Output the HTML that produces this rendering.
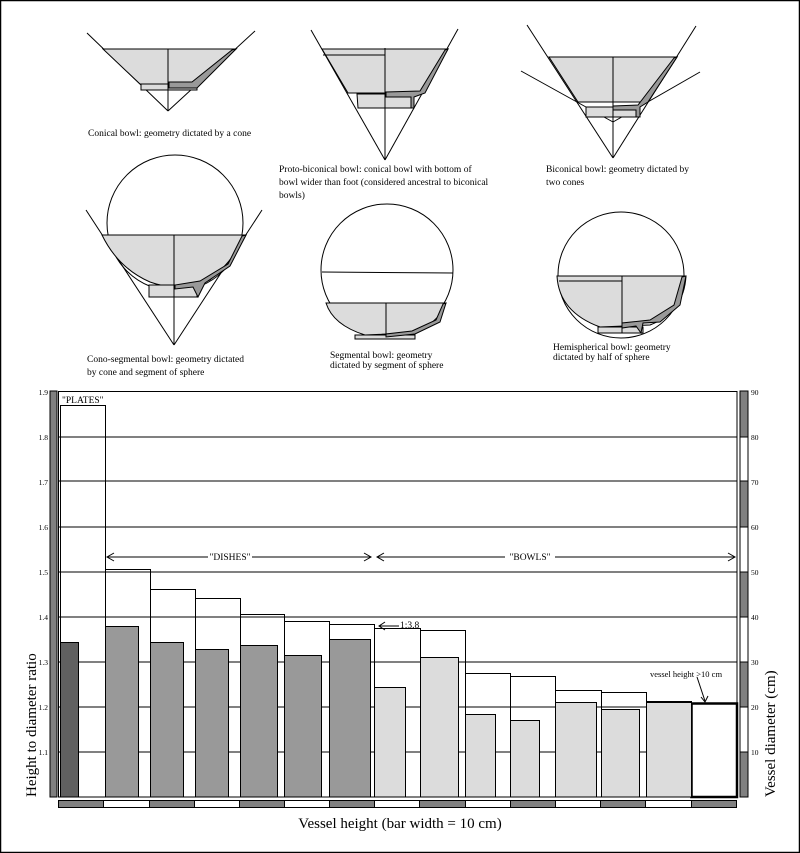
<!DOCTYPE html>
<html><head><meta charset="utf-8"><style>
html,body{margin:0;padding:0;background:#fff;}
svg{display:block;font-family:"Liberation Serif",serif;}
</style></head><body>
<svg width="800" height="853" viewBox="0 0 800 853" xmlns="http://www.w3.org/2000/svg">
<rect x="0.5" y="0.5" width="799" height="852" fill="#fff" stroke="#000" stroke-width="1.5"/>

<!-- Conical bowl -->
<g stroke="#000" stroke-width="1" fill="none">
<line x1="87" y1="33" x2="168" y2="111"/><line x1="255" y1="31" x2="168" y2="111"/>
<polygon points="103,49 236,49 196,84 140,84" fill="#dcdcdc"/>
<rect x="141" y="84" width="56" height="6" fill="#dcdcdc"/>
<polygon points="232,50 236,49 197,88 169,88 169,82 192,82" fill="#999"/>
<line x1="168" y1="49" x2="168" y2="111"/>
</g>
<text x="88" y="136" font-size="9.5">Conical bowl: geometry dictated by a cone</text>

<!-- Proto-biconical -->
<g stroke="#000" stroke-width="1" fill="none">
<line x1="311" y1="30" x2="385" y2="160"/><line x1="458" y1="29" x2="385" y2="160"/>
<polygon points="322,49 448,49 423,93 348,93" fill="#dcdcdc"/>
<polygon points="357,94 413,94 413,108 358,108" fill="#dcdcdc"/>
<line x1="323" y1="55" x2="385" y2="55"/>
<polygon points="445,50 448,49 425,93 414,97 414,108 411,108 411,97 386,97 386,92 420,91" fill="#999"/>
<line x1="385" y1="48" x2="385" y2="160"/>
</g>
<text font-size="9.5"><tspan x="279" y="172">Proto-biconical bowl: conical bowl with bottom of</tspan><tspan x="279" y="185">bowl wider than foot (considered ancestral to biconical</tspan><tspan x="279" y="198">bowls)</tspan></text>

<!-- Biconical -->
<g stroke="#000" stroke-width="1" fill="none">
<line x1="527" y1="25" x2="613" y2="158"/><line x1="696" y1="26" x2="613" y2="158"/>
<line x1="521" y1="71" x2="613" y2="122"/><line x1="700" y1="72" x2="613" y2="122"/>
<polygon points="549,57 677,57 648,102 578,102" fill="#dcdcdc"/>
<rect x="586" y="107" width="54" height="10" fill="#dcdcdc"/>
<polygon points="674,58 677,57 648,102 640,107 640,117 636,117 636,110 613,110 613,106 638,105" fill="#999"/>
<line x1="578" y1="102" x2="613" y2="102"/>
<line x1="613" y1="57" x2="613" y2="158"/>
</g>
<text font-size="9.5"><tspan x="546" y="172">Biconical bowl: geometry dictated by</tspan><tspan x="546" y="185">two cones</tspan></text>

<!-- Cono-segmental -->
<g stroke="#000" stroke-width="1" fill="none">
<circle cx="175" cy="223" r="68"/>
<line x1="86" y1="210" x2="174" y2="345"/><line x1="262" y1="210" x2="174" y2="345"/>
<path d="M102,235 L246,235 Q232,262 210,280 Q180,293 150,282 Q118,268 102,235 Z" fill="#dcdcdc"/>
<rect x="149" y="285" width="48" height="12" fill="#dcdcdc"/>
<polygon points="242,236 246,235 230,266 205,283 198,297 193,287 175,289 175,285 200,281 228,264" fill="#999"/>
<line x1="174" y1="235" x2="174" y2="345"/>
</g>
<text font-size="9.5"><tspan x="87" y="362">Cono-segmental bowl: geometry dictated</tspan><tspan x="87" y="375">by cone and segment of sphere</tspan></text>

<!-- Segmental -->
<g stroke="#000" stroke-width="1" fill="none">
<circle cx="387" cy="270" r="66"/>
<line x1="322" y1="272" x2="453" y2="273"/>
<path d="M326,303 L446,303 Q438,325 410,333 L365,335 Q333,325 326,303 Z" fill="#dcdcdc"/>
<rect x="355" y="335" width="60" height="4" fill="#dcdcdc"/>
<polygon points="443,304 446,303 440,322 415,334 386,337 386,334 412,331 436,320" fill="#999"/>
<line x1="386" y1="303" x2="386" y2="336"/>
</g>
<text font-size="9.5"><tspan x="330" y="358">Segmental bowl: geometry</tspan><tspan x="330" y="368">dictated by segment of sphere</tspan></text>

<!-- Hemispherical -->
<g stroke="#000" stroke-width="1" fill="none">
<circle cx="621" cy="275" r="63"/>
<path d="M557,276 L686,276 Q684,312 650,325 L600,327 Q559,312 557,276 Z" fill="#dcdcdc"/>
<rect x="598" y="327" width="45" height="6" fill="#dcdcdc"/>
<line x1="559" y1="281" x2="622" y2="281"/>
<polygon points="682,277 686,276 680,305 660,322 643,323 641,333 636,326 622,328 622,323 650,320 674,305" fill="#999"/>
<line x1="622" y1="276" x2="622" y2="333"/>
</g>
<text font-size="9.5"><tspan x="553" y="350">Hemispherical bowl: geometry</tspan><tspan x="553" y="360">dictated by half of sphere</tspan></text>

<!-- Chart -->
<g stroke="#000" stroke-width="1">
<rect x="50" y="391" width="7" height="406" fill="#808080"/>
<rect x="740" y="391" width="8" height="46" fill="#808080"/>
<rect x="740" y="437" width="8" height="44" fill="#fff"/>
<rect x="740" y="481" width="8" height="46" fill="#808080"/>
<rect x="740" y="527" width="8" height="45" fill="#fff"/>
<rect x="740" y="572" width="8" height="45" fill="#808080"/>
<rect x="740" y="617" width="8" height="45" fill="#fff"/>
<rect x="740" y="662" width="8" height="45" fill="#808080"/>
<rect x="740" y="707" width="8" height="45" fill="#fff"/>
<rect x="740" y="752" width="8" height="45" fill="#808080"/>
<rect x="58.5" y="391.5" width="678.5" height="405.5" fill="#fff"/>
<!-- white outline bars -->
<g fill="#fff">
<rect x="60.5" y="405.5" width="45" height="391.5"/>
<rect x="105.5" y="569.5" width="45" height="227.5"/>
<rect x="150.5" y="589.5" width="45" height="207.5"/>
<rect x="195.5" y="598.5" width="45" height="198.5"/>
<rect x="240.5" y="614.5" width="44" height="182.5"/>
<rect x="284.5" y="621.5" width="45" height="175.5"/>
<rect x="329.5" y="624.5" width="45" height="172.5"/>
<rect x="374.5" y="628.5" width="46" height="168.5"/>
<rect x="420.5" y="630.5" width="45" height="166.5"/>
<rect x="465.5" y="673.5" width="45" height="123.5"/>
<rect x="510.5" y="676.5" width="45" height="120.5"/>
<rect x="555.5" y="690.5" width="46" height="106.5"/>
<rect x="601.5" y="692.5" width="45" height="104.5"/>
<rect x="646.5" y="701.5" width="45" height="95.5"/>
</g>
<g fill="none">
<line x1="58" y1="437" x2="737" y2="437"/><line x1="58" y1="481" x2="737" y2="481"/>
<line x1="58" y1="527" x2="737" y2="527"/><line x1="58" y1="572" x2="737" y2="572"/>
<line x1="58" y1="617" x2="737" y2="617"/><line x1="58" y1="662" x2="737" y2="662"/>
<line x1="58" y1="707" x2="737" y2="707"/><line x1="58" y1="752" x2="737" y2="752"/>
</g>
<rect x="691.5" y="703.5" width="45.5" height="93.5" fill="#fff" stroke-width="2.5"/>
<!-- diameter bars -->
<rect x="60.5" y="642.5" width="18" height="154.5" fill="#606060"/>
<g fill="#999">
<rect x="105.5" y="626.5" width="33" height="170.5"/>
<rect x="150.5" y="642.5" width="33" height="154.5"/>
<rect x="195.5" y="649.5" width="33" height="147.5"/>
<rect x="240.5" y="645.5" width="37" height="151.5"/>
<rect x="284.5" y="655.5" width="37" height="141.5"/>
<rect x="329.5" y="639.5" width="41" height="157.5"/>
</g>
<g fill="#dcdcdc">
<rect x="374.5" y="687.5" width="31" height="109.5"/>
<rect x="420.5" y="657.5" width="38" height="139.5"/>
<rect x="465.5" y="714.5" width="30" height="82.5"/>
<rect x="510.5" y="720.5" width="29" height="76.5"/>
<rect x="555.5" y="702.5" width="41" height="94.5"/>
<rect x="601.5" y="709.5" width="38" height="87.5"/>
<rect x="646.5" y="702.5" width="45" height="94.5"/>
</g>
<!-- bottom strip -->
<rect x="58.5" y="800.5" width="45" height="7" fill="#808080"/>
<rect x="103.5" y="800.5" width="46" height="7" fill="#fff"/>
<rect x="149.5" y="800.5" width="45" height="7" fill="#808080"/>
<rect x="194.5" y="800.5" width="45" height="7" fill="#fff"/>
<rect x="239.5" y="800.5" width="45" height="7" fill="#808080"/>
<rect x="284.5" y="800.5" width="45" height="7" fill="#fff"/>
<rect x="329.5" y="800.5" width="45" height="7" fill="#808080"/>
<rect x="374.5" y="800.5" width="45" height="7" fill="#fff"/>
<rect x="419.5" y="800.5" width="46" height="7" fill="#808080"/>
<rect x="465.5" y="800.5" width="45" height="7" fill="#fff"/>
<rect x="510.5" y="800.5" width="45" height="7" fill="#808080"/>
<rect x="555.5" y="800.5" width="45" height="7" fill="#fff"/>
<rect x="600.5" y="800.5" width="45" height="7" fill="#808080"/>
<rect x="645.5" y="800.5" width="46" height="7" fill="#fff"/>
<rect x="691.5" y="800.5" width="45" height="7" fill="#808080"/>
<!-- arrows -->
<g fill="none">
<line x1="107" y1="557" x2="208" y2="557"/><line x1="252" y1="557" x2="371" y2="557"/>
<polyline points="114,553 107,557 114,561"/><polyline points="364,553 371,557 364,561"/>
<line x1="377" y1="557" x2="505" y2="557"/><line x1="555" y1="557" x2="735" y2="557"/>
<polyline points="384,553 377,557 384,561"/><polyline points="728,553 735,557 728,561"/>
<line x1="379" y1="626" x2="399" y2="626"/><polyline points="385,622 379,626 385,630"/>
<line x1="697" y1="677" x2="705" y2="701"/><polyline points="701,697 705,702 708,696"/>
</g>
</g>
<g font-size="7.5" text-anchor="end">
<text x="48" y="395">1.9</text><text x="48" y="440">1.8</text><text x="48" y="485">1.7</text>
<text x="48" y="530">1.6</text><text x="48" y="575">1.5</text><text x="48" y="620">1.4</text>
<text x="48" y="665">1.3</text><text x="48" y="710">1.2</text><text x="48" y="755">1.1</text>
</g>
<g font-size="7.5">
<text x="751" y="395">90</text><text x="751" y="440">80</text><text x="751" y="485">70</text>
<text x="751" y="530">60</text><text x="751" y="575">50</text><text x="751" y="620">40</text>
<text x="751" y="665">30</text><text x="751" y="710">20</text><text x="751" y="755">10</text>
</g>
<text x="62" y="403" font-size="9.5">"PLATES"</text>
<text x="230" y="560" font-size="9.5" text-anchor="middle">"DISHES"</text>
<text x="530" y="560" font-size="9.5" text-anchor="middle">"BOWLS"</text>
<text x="400" y="628" font-size="9.5">1:3.8</text>
<text x="650" y="677" font-size="8.5">vessel height &gt;10 cm</text>
<text x="400" y="828" font-size="15" text-anchor="middle">Vessel height (bar width = 10 cm)</text>
<text transform="translate(36,797) rotate(-90)" font-size="15">Height to diameter ratio</text>
<text transform="translate(775,797) rotate(-90)" font-size="15">Vessel diameter (cm)</text>
</svg>
</body></html>
